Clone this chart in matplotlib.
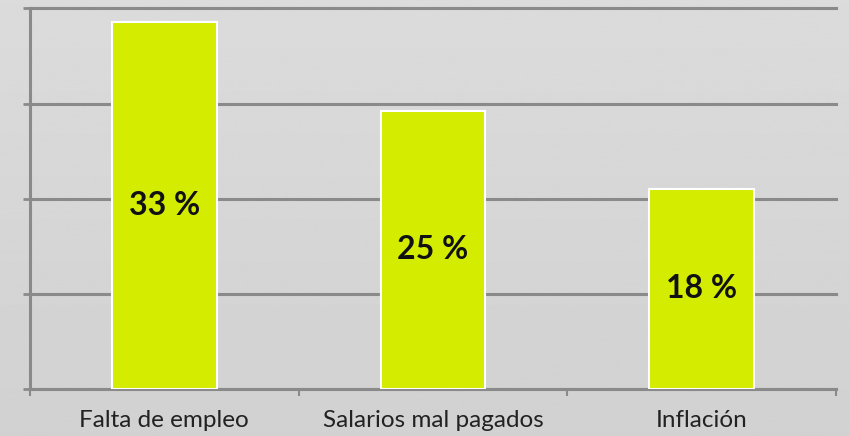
import numpy as np
import matplotlib.pyplot as plt

categorias = ['Falta de empleo', 'Salarios mal pagados', 'Inflación']
porcentajes = [33, 25, 18]
etiquetas = ['33 %', '25 %', '18 %']

plt.rcParams['font.family'] = ['Lato', 'DejaVu Sans']

fig = plt.figure(figsize=(8.49, 4.36), dpi=100)

# fondo gris con degradado suave
fondo = fig.add_axes([0, 0, 1, 1], zorder=-1)
degradado = np.linspace(0.86, 0.82, 256).reshape(-1, 1)
fondo.imshow(degradado, aspect='auto', cmap='gray', vmin=0, vmax=1,
             extent=[0, 1, 0, 1])
fondo.axis('off')

W, H = 849, 436
izq, der, abajo, arriba = 30, 836, 389, 8.5
ax = fig.add_axes([izq / W, (H - abajo) / H, (der - izq) / W, (abajo - arriba) / H])
ax.patch.set_alpha(0)

x = np.arange(len(categorias))
gris = '#8a8a8a'
ax.bar(x, porcentajes, width=0.39, color='#d4ec00', edgecolor='white',
       linewidth=1.5, zorder=3)

for xi, v, txt in zip(x, porcentajes, etiquetas):
    ax.text(xi, v / 2, txt, ha='center', va='center', fontsize=23,
            fontweight='bold', color='#111111', zorder=4)

ymax = 34.2
ax.set_ylim(0, ymax)
ax.set_xlim(-0.5, 2.5)
ax.set_yticks(np.linspace(0, ymax, 5))
ax.set_yticklabels([])
ax.yaxis.grid(True, color=gris, linewidth=2.2, zorder=1)
ax.tick_params(axis='y', length=5, width=2, color=gris)
for linea in ax.get_ygridlines():
    linea.set_clip_on(False)

# marcas entre categorías y nombres centrados bajo cada barra
ax.set_xticks([-0.5, 0.5, 1.5, 2.5])
ax.set_xticklabels([])
ax.tick_params(axis='x', which='major', length=5, width=1.5, color=gris)
ax.set_xticks(x, minor=True)
ax.set_xticklabels(categorias, minor=True, fontsize=17.5, color='#222222')
ax.tick_params(axis='x', which='minor', length=0, pad=15)

for lado in ['top', 'right']:
    ax.spines[lado].set_visible(False)
for lado in ['left', 'bottom']:
    ax.spines[lado].set_color(gris)
    ax.spines[lado].set_linewidth(2.2)

fig.savefig('out.png', dpi=100)
